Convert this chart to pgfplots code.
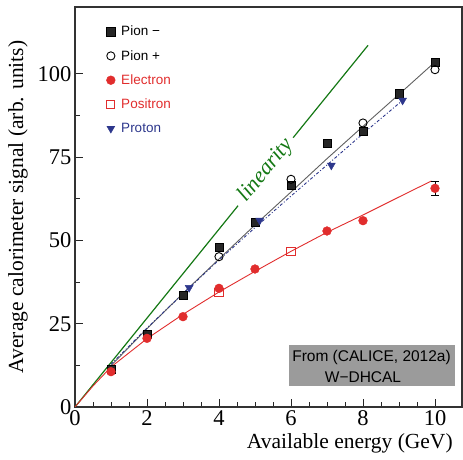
\documentclass[border=0pt]{standalone}
\usepackage{pgfplots}
\pgfplotsset{compat=1.18}
\usepackage{fontspec}
\setmainfont{Liberation Serif}
\setsansfont{Liberation Sans}
\definecolor{myred}{RGB}{225,45,45}
\definecolor{myblue}{RGB}{45,55,140}
\definecolor{mygreen}{RGB}{20,120,20}
\definecolor{linegray}{RGB}{95,95,95}
\definecolor{boxgray}{RGB}{155,155,155}
\begin{document}
\begin{tikzpicture}
\begin{axis}[
  scale only axis, width=387pt, height=400pt,
  xmin=0, xmax=10.75, ymin=0, ymax=120,
  xtick={0,2,4,6,8,10}, ytick={0,25,50,75,100},
  minor x tick num=3, minor y tick num=1,
  tick pos=left, tick align=inside,
  major tick length=8pt, minor tick length=5pt,
  every tick/.style={black!85, line width=0.8pt},
  axis line style={line width=1.2pt, black!80},
  tick label style={font=\fontsize{22.5}{26}\selectfont},
  /pgf/number format/assume math mode=true,
  xlabel={Available energy (GeV)},
  ylabel={Average calorimeter signal (arb. units)},
  label style={font=\fontsize{21.5}{26}\selectfont},
  xlabel style={at={(axis description cs:0.985,0)}, anchor=north east, yshift=-23pt},
  ylabel style={at={(axis description cs:-0.147,0.5)}, anchor=center},
  legend style={at={(axis description cs:0.073,0.963)}, anchor=north west, draw=none, fill=none,
    font=\sffamily\fontsize{13.5}{15}\selectfont, row sep=9pt,
    /tikz/every odd column/.append style={column sep=4pt}},
  legend cell align=left,
]
% fit lines
\addplot[mygreen, line width=1.2pt, forget plot] coordinates {(0,0) (4.53,60.4)};
\addplot[mygreen, line width=1.2pt, forget plot] coordinates {(6.06,80.8) (8.14,108.5)};
\addplot[linegray, line width=0.9pt, forget plot] coordinates {
 (0.95,11.8) (1,12.4) (2,23.5) (3,34.1) (4,44.4) (5,54.6) (6,64.5) (7,74.5) (8,84.2) (9,93.8) (10,103.5)};
\addplot[myblue, line width=0.9pt, dash pattern=on 3pt off 2pt on 1pt off 2pt, forget plot] coordinates {
 (1,12.8) (2,23.7) (3,34.0) (4,44.1) (5,53.8) (6,63.3) (7,72.6) (8,82.0) (9.1,92.0)};
\addplot[myred, line width=0.9pt, forget plot] coordinates {
 (0,0) (0.5,6.3) (1,12.0) (2,20.5) (3,27.8) (4,34.5) (5,40.7) (6,46.7) (7,52.4) (8,57.6) (9,63.0) (9.9,67.8)};
% data
\addplot[only marks, mark=square*, mark size=4.2pt, black, mark options={fill=black!85}] coordinates {
 (1,11.4) (2,21.8) (3,33.6) (4,47.9) (5,55.5) (6,66.5) (7,79.2) (8,82.8) (9,94.0) (10,103.5)};
\addlegendentry{Pion −}
\addplot[only marks, mark=o, mark size=4.1pt, black, mark options={line width=0.9pt, fill=white}] coordinates {
 (4,45.1) (6,68.3) (8,85.2) (10,101.2)};
\addlegendentry{Pion +}
\addplot[only marks, mark=*, mark size=4.4pt, myred] coordinates {
 (1,10.6) (2,20.6) (3,27.1) (4,35.6) (5,41.4) (7,52.8) (8,55.9)};
\addlegendentry{\textcolor{myred}{Electron}}
\addplot[only marks, mark=square, mark size=4.1pt, myred, mark options={line width=0.9pt, fill=white}] coordinates {
 (4,34.3) (6,46.6)};
\addlegendentry{\textcolor{myred}{Positron}}
\addplot[only marks, mark=triangle*, mark size=4.6pt, myblue, mark options={rotate=180}] coordinates {
 (3.17,35.8) (5.13,56.0) (7.12,72.5) (9.1,92.0)};
\addlegendentry{\textcolor{myblue}{Proton}}
\addplot[only marks, mark=*, mark size=4.4pt, myred, forget plot,
  error bars/.cd, y dir=both, y explicit, error bar style={black, line width=0.8pt},
  error mark options={rotate=90, mark size=4pt, black, line width=0.8pt}]
  coordinates {(10,65.6) +- (0,2.0)};
% annotations
\node[mygreen, rotate=51, font=\itshape\fontsize{22}{24}\selectfont, anchor=center] at (axis cs:5.3,71.0) {linearity};
\fill[boxgray] (axis cs:5.94,6.3) rectangle (axis cs:10.56,18.6);
\node[anchor=west, font=\sffamily\fontsize{15.5}{18}\selectfont, inner sep=0pt] at (axis cs:6.03,15.0) {From (CALICE, 2012a)};
\node[anchor=center, font=\sffamily\fontsize{15.5}{18}\selectfont, inner sep=0pt] at (axis cs:8.0,9.0) {W−DHCAL};
\end{axis}
\pgfresetboundingbox
\path (-75pt,-53pt) rectangle (388pt,407pt);
\end{tikzpicture}
\end{document}
